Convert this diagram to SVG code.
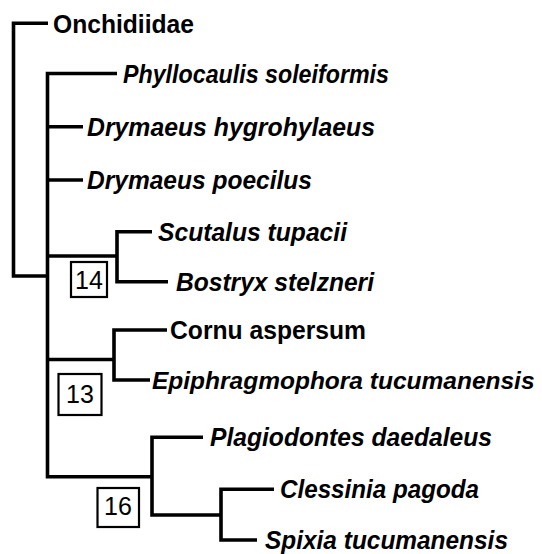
<svg xmlns="http://www.w3.org/2000/svg" width="542" height="554" viewBox="0 0 542 554">
<style>
.br{fill:none;stroke:#000;stroke-width:3.6;stroke-linejoin:miter;stroke-linecap:butt}
.t{font-family:"Liberation Sans",Arial,sans-serif;font-size:26px;font-weight:bold;fill:#000}
.i{font-style:italic}
.bx{fill:#fff;stroke:#000;stroke-width:2.2}
.n{font-family:"Liberation Sans",Arial,sans-serif;font-size:25px;fill:#000;text-anchor:middle}
</style>
<rect width="542" height="554" fill="#fff"/>
<g id="connectors">
<path class="br" d="M48 23.3 H13.5 V276 H47.5"/>
<path class="br" d="M117 73.5 H47.5 V476.7 H152"/>
<path class="br" d="M47.5 126.7 H83"/>
<path class="br" d="M47.5 180 H83"/>
<path class="br" d="M47.5 256 H117"/>
<path class="br" d="M152 231.7 H117 V281.7 H168"/>
<path class="br" d="M47.5 359.5 H114"/>
<path class="br" d="M167 330 H114 V380 H150"/>
<path class="br" d="M203 437.3 H152 V515 H221"/>
<path class="br" d="M274 489.3 H221 V540 H257"/>
</g>
<g id="onchidiidae"><text class="t" x="53" y="32.5" textLength="141" lengthAdjust="spacingAndGlyphs">Onchidiidae</text></g>
<g id="phyllocaulis"><text class="t i" x="123" y="82.5" textLength="266" lengthAdjust="spacingAndGlyphs">Phyllocaulis soleiformis</text></g>
<g id="drymaeus-hygrohylaeus"><text class="t i" x="87" y="135.5" textLength="288" lengthAdjust="spacingAndGlyphs">Drymaeus hygrohylaeus</text></g>
<g id="drymaeus-poecilus"><text class="t i" x="87" y="189" textLength="225" lengthAdjust="spacingAndGlyphs">Drymaeus poecilus</text></g>
<g id="scutalus"><text class="t i" x="158" y="240.5" textLength="189" lengthAdjust="spacingAndGlyphs">Scutalus tupacii</text></g>
<g id="bostryx"><text class="t i" x="176" y="290.5" textLength="198" lengthAdjust="spacingAndGlyphs">Bostryx stelzneri</text></g>
<g id="cornu"><text class="t" x="170" y="339" textLength="196" lengthAdjust="spacingAndGlyphs">Cornu aspersum</text></g>
<g id="epiphragmophora"><text class="t i" x="152" y="389" style="font-size:24.5px">Epiphragmophora tucumanensis</text></g>
<g id="plagiodontes"><text class="t i" x="210" y="446" textLength="282" lengthAdjust="spacingAndGlyphs">Plagiodontes daedaleus</text></g>
<g id="clessinia"><text class="t i" x="280" y="498" textLength="199" lengthAdjust="spacingAndGlyphs">Clessinia pagoda</text></g>
<g id="spixia"><text class="t i" x="265" y="549" textLength="243" lengthAdjust="spacingAndGlyphs">Spixia tucumanensis</text></g>
<g id="box14"><rect class="bx" x="71" y="262" width="36" height="35"/><text class="n" x="89" y="288.5">14</text></g>
<g id="box13"><rect class="bx" x="58.5" y="374" width="43" height="41"/><text class="n" x="80" y="403">13</text></g>
<g id="box16"><rect class="bx" x="97.5" y="488" width="41.5" height="39"/><text class="n" x="118" y="515">16</text></g>
</svg>
